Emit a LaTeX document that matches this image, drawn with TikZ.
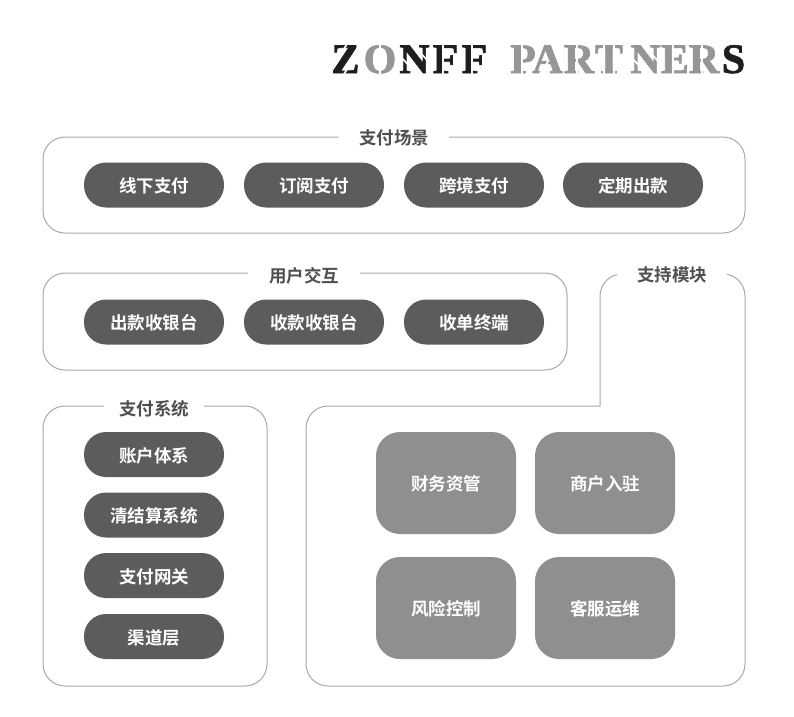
\documentclass[tikz,border=0pt]{standalone}
\usepackage{fontspec}
\setmainfont{Noto Sans CJK SC}[BoldFont={Noto Sans CJK SC Bold}]
\newfontfamily\logofont[FakeBold=1.6]{Liberation Serif Bold}
\definecolor{pillgray}{HTML}{5C5C5C}
\definecolor{modgray}{HTML}{8F8F8F}
\definecolor{linegray}{HTML}{A8A8A8}
\definecolor{titlegray}{HTML}{4F4F4F}
\definecolor{logogray}{HTML}{969696}
\definecolor{logodark}{HTML}{1E1E1E}
\tikzset{
  frame/.style={draw=linegray,line width=1pt,rounded corners=22pt,inner sep=0pt},
  title/.style={fill=white,text=titlegray,font=\fontsize{17.5}{17.5}\selectfont\bfseries,inner sep=0pt,minimum height=20pt,text height=16pt,text depth=1pt},
  pill/.style={fill=pillgray,text=white,font=\fontsize{17.5}{17.5}\selectfont\bfseries,rounded corners=22pt,minimum width=140pt,minimum height=45pt,inner sep=0pt,text height=16pt,text depth=1pt},
  module/.style={fill=modgray,text=white,font=\fontsize{17.5}{17.5}\selectfont\bfseries,rounded corners=24pt,minimum width=140pt,minimum height=102pt,inner sep=0pt,text height=16pt,text depth=1pt},
  letter/.style={anchor=base,inner sep=0pt,text=logogray,font=\fontsize{42}{42}\selectfont\logofont},
  darkletter/.style={letter,text=logodark},
  cut/.style={white,line width=1.7pt}
}
\begin{document}
\begin{tikzpicture}[x=1pt,y=-1pt]
\useasboundingbox (0,0) rectangle (794,716);
% logo
\node[darkletter] (z) at (345.5,73) {Z};
\node[letter] (o) at (380,73) {O};
\node[darkletter] (n) at (414.5,73) {N};
\node[darkletter] (f) at (445.5,73) {F};
\node[darkletter] (ff) at (474.5,73) {F};
\node[letter] (p) at (523,73) {P};
\node[letter] (a) at (547.5,73) {A};
\node[letter] (r) at (579,73) {R};
\node[letter] (t) at (609,73) {T};
\node[letter] (nn) at (645.5,73) {N};
\node[letter] (e) at (675,73) {E};
\node[letter] (rr) at (704,73) {R};
\node[darkletter] (s) at (733.5,73) {S};
% stencil cuts
\draw[cut] (347,44) -- (331,69) (360,49) -- (344,74);
\draw[cut] (380,43) -- (380,75);
\draw[cut] (400,56) -- (418,75) (411,43) -- (429,62);
\draw[cut] (443,43) -- (443,75) (472,43) -- (472,75);
\draw[cut] (522,43) -- (522,75) (539,75) -- (549,60);
\draw[cut] (577,43) -- (577,75) (604,43) -- (604,75) (614,43) -- (614,75);
\draw[cut] (630,56) -- (648,75) (641,43) -- (659,62);
\draw[cut] (673,43) -- (673,75) (702,43) -- (702,75);
% frames
\node[frame,minimum width=702pt,minimum height=96pt] (scene) at (394,185) {};
\node[frame,minimum width=524pt,minimum height=97pt] (user) at (305,321.5) {};
\node[frame,minimum width=224pt,minimum height=280pt] (paysys) at (155,546) {};
\draw[frame] (600,406) -- (600,274) -- (745,274) -- (745,686) -- (306,686) -- (306,406) -- (600,406);
\node[title,minimum width=110pt,yshift=-1pt] (scenet) at (394,136) {支付场景};
\node[title,minimum width=112pt,yshift=-1pt] (usert) at (304,274) {用户交互};
\node[title,minimum width=100pt] (paysyst) at (154,408) {支付系统};
\node[title,minimum width=110pt] (supportt) at (672,274) {支持模块};
% scene row
\node[pill] (offline) at (154,185) {线下支付};
\node[pill] (subscr) at (314,185) {订阅支付};
\node[pill] (cross) at (474,185) {跨境支付};
\node[pill] (payout) at (633,185) {定期出款};
% user row
\node[pill] (paydesk) at (154,322) {出款收银台};
\node[pill] (recvdesk) at (314,322) {收款收银台};
\node[pill] (terminal) at (474,322) {收单终端};
% system column
\node[pill] (account) at (154,454.5) {账户体系};
\node[pill] (clearing) at (154,515) {清结算系统};
\node[pill] (gateway) at (154,575.5) {支付网关};
\node[pill] (channel) at (154,636.5) {渠道层};
% support modules
\node[module] (finance) at (446,483) {财务资管};
\node[module] (merchant) at (605,483) {商户入驻};
\node[module] (risk) at (446,608) {风险控制};
\node[module] (service) at (605,608) {客服运维};
\end{tikzpicture}
\end{document}
